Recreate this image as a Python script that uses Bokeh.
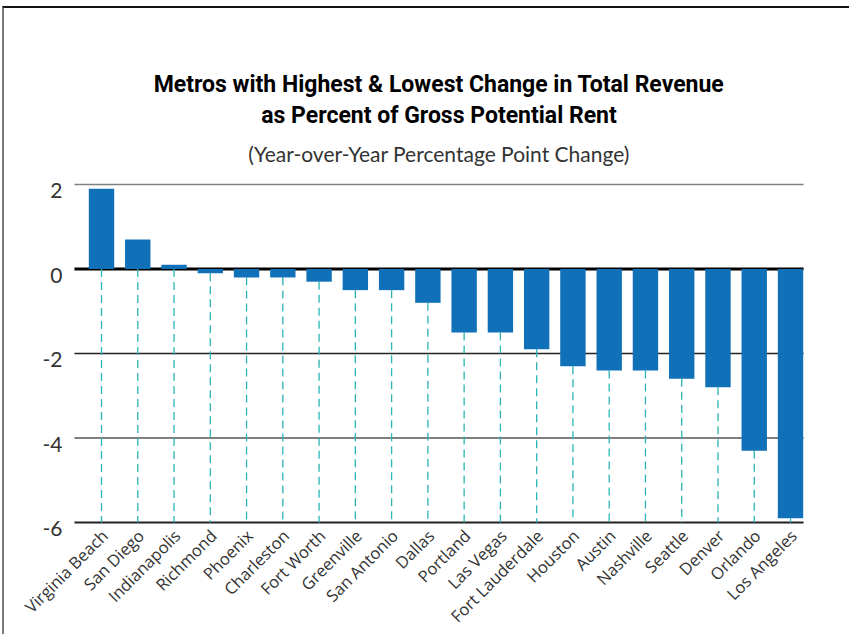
import math
from bokeh.plotting import figure
from bokeh.models import Range1d, ColumnDataSource
from bokeh.core.properties import value
from bokeh.embed import file_html
from bokeh.resources import INLINE

# ---- data ----
cities = ["Virginia Beach", "San Diego", "Indianapolis", "Richmond", "Phoenix",
          "Charleston", "Fort Worth", "Greenville", "San Antonio", "Dallas",
          "Portland", "Las Vegas", "Fort Lauderdale", "Houston", "Austin",
          "Nashville", "Seattle", "Denver", "Orlando", "Los Angeles"]
values = [1.9, 0.7, 0.1, -0.1, -0.2, -0.2, -0.3, -0.5, -0.5, -0.8,
          -1.5, -1.5, -1.9, -2.3, -2.4, -2.4, -2.6, -2.8, -4.3, -5.9]
y_ticks = [2, 0, -2, -4, -6]
y_tick_labels = [str(t) for t in y_ticks]
title_line1 = "Metros with Highest & Lowest Change in Total Revenue"
title_line2 = "as Percent of Gross Potential Rent"
subtitle = "(Year-over-Year Percentage Point Change)"

# ---- styles / layout (index units on x, value units on y) ----
Y_MIN, Y_MAX = -6, 2
X_VIEW = (-2.675, 20.682)       # visible x span (category index units)
Y_VIEW = (-8.698, 6.166)        # visible y span (room for titles and labels)
GRID_X0, GRID_X1 = -0.745, 19.36
BAR_COLOR = "#1070b8"
DASH_COLOR = "#2bb5b5"
grid_colors = ["#808080", "#000000", "#222222", "#808080", "#222222"]
grid_widths = [1.5, 3, 1.5, 2, 2]

xs = list(range(len(cities)))
source = ColumnDataSource(dict(
    x=xs,
    city=cities,
    val=values,
    dash_top=[min(v, 0) for v in values],
    dash_bottom=[Y_MIN] * len(values),
))
grid_src = ColumnDataSource(dict(
    y=y_ticks,
    label=y_tick_labels,
    x0=[GRID_X0] * len(y_ticks),
    x1=[GRID_X1] * len(y_ticks),
    color=grid_colors,
    width=grid_widths,
))

p = figure(width=847, height=628, title=None,
           x_range=Range1d(*X_VIEW), y_range=Range1d(*Y_VIEW),
           output_backend="svg", toolbar_location=None,
           min_border=0, min_border_left=0, min_border_right=0,
           min_border_top=0, min_border_bottom=0)
p.styles = {"border-top": "2px solid #111111", "border-left": "2px solid #7a7a7a",
            "margin-top": "6px", "margin-left": "2px"}
p.outline_line_color = None
p.xaxis.visible = False
p.yaxis.visible = False
p.xgrid.visible = False
p.ygrid.visible = False

# horizontal grid lines
p.segment(x0="x0", y0="y", x1="x1", y1="y", source=grid_src,
          line_color="color", line_width="width")

# dashed drop lines
p.segment(x0="x", y0="dash_top", x1="x", y1="dash_bottom", source=source,
          line_color=DASH_COLOR, line_width=1.3, line_dash="8 5")

# bars
p.vbar(x="x", top="val", bottom=0, width=0.7, source=source,
       fill_color=BAR_COLOR, line_color=None)

# y tick labels
p.text(x=GRID_X0, y="y", text="label", source=grid_src,
       text_align="right", text_baseline="middle", x_offset=-12, y_offset=6,
       text_font=value("Lato"), text_font_size="21px", text_color="#333333")

# category labels, rotated, below the -6 axis line
p.text(x="x", y="dash_bottom", text="city", source=source,
       angle=math.pi / 4, text_align="right", text_baseline="middle",
       x_offset=3, y_offset=10,
       text_font=value("Open Sans"), text_font_size="16.5px",
       text_color="#333333")

# titles, centred over the grid, offset in pixels from the top grid line
TITLE_X = (GRID_X0 + GRID_X1) / 2
p.text(x=[TITLE_X], y=[Y_MAX], text=[title_line1], text_align="center",
       text_baseline="middle", y_offset=-100,
       text_font=value("Roboto"), text_font_style="bold",
       text_font_size="23px", text_color="#000000")
p.text(x=[TITLE_X], y=[Y_MAX], text=[title_line2], text_align="center",
       text_baseline="middle", y_offset=-69,
       text_font=value("Roboto"), text_font_style="bold",
       text_font_size="23px", text_color="#000000")
p.text(x=[TITLE_X], y=[Y_MAX], text=[subtitle], text_align="center",
       text_baseline="middle", y_offset=-31,
       text_font=value("Lato"), text_font_size="21px", text_color="#333333")

open("out.html", "w").write(file_html(p, INLINE))
